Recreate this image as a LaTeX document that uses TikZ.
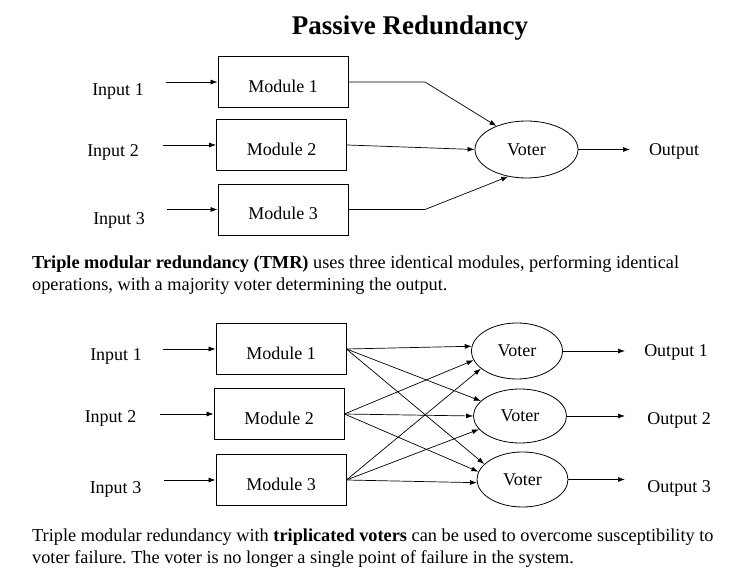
\documentclass[tikz,border=0pt]{standalone}
\usepackage{fontspec}
\setmainfont{Liberation Serif}
\usetikzlibrary{arrows.meta, shapes.geometric}
\frenchspacing

\begin{document}
\begin{tikzpicture}[x=1pt, y=-1pt,
  font=\fontsize{18}{22}\selectfont,
  modbox/.style={draw, line width=0.8pt, minimum width=130pt, inner ysep=0pt,
    text height=36pt, text depth=15pt},
  voter/.style={draw, ellipse, line width=0.8pt, inner sep=0pt},
  lbl/.style={anchor=base},
  flow/.style={-{Latex[length=7pt, width=5pt]}, line width=0.7pt},
  para/.style={anchor=base west, align=left, inner sep=0pt,
    font=\fontsize{18.3}{22}\selectfont}]

\useasboundingbox (0,0) rectangle (748,569);

% ======================
% Title
% ======================
\node[lbl, font=\fontsize{27}{32}\selectfont\bfseries] (title) at (410,35) {Passive Redundancy};

% ======================
% TMR with one voter
% ======================
\node[modbox] (m1) at (283,82) {Module 1};
\node[modbox] (m2) at (281.5,145) {Module 2};
\node[modbox] (m3) at (283,209.5) {Module 3};
\node[voter, minimum width=103pt, minimum height=57pt] (v) at (526.5,149.5) {Voter};

\node[lbl] (in1) at (118,96) {Input 1};
\node[lbl] (in2) at (113,157) {Input 2};
\node[lbl] (in3) at (119,225) {Input 3};
\node[lbl] (out) at (674,156) {Output};

\coordinate (t1) at (166,82);
\coordinate (t2) at (163,145);
\coordinate (t3) at (167,209.5);
\coordinate (k1) at (425,82);
\coordinate (k3) at (425,209.5);
\coordinate (o) at (630,149.5);

\draw[flow] (t1) -- (m1.west);
\draw[flow] (t2) -- (m2.west);
\draw[flow] (t3) -- (m3.west);
\draw[flow] (m1.east) -- (k1) -- (v.142);
\draw[flow] (m2.east) -- (v.west);
\draw[flow] (m3.east) -- (k3) -- (v.236);
\draw[flow] (v.east) -- (o);

\node[para] (txt1) at (32,291)
{\textbf{Triple modular redundancy (TMR)} uses three identical modules, performing identical\\
operations, with a majority voter determining the output.};

% ======================
% TMR with triplicated voters
% ======================
\node[modbox] (b1) at (281,349) {Module 1};
\node[modbox] (b2) at (279,414) {Module 2};
\node[modbox] (b3) at (281,480) {Module 3};
\node[voter, minimum width=91pt, minimum height=56pt] (w1) at (517,351) {Voter};
\node[voter, minimum width=93pt, minimum height=54pt] (w2) at (520,416) {Voter};
\node[voter, minimum width=91pt, minimum height=55pt] (w3) at (522.5,479.5) {Voter};

\node[lbl] (jn1) at (116,361) {Input 1};
\node[lbl] (jn2) at (110.5,423) {Input 2};
\node[lbl] (jn3) at (115.5,494) {Input 3};
\node[lbl] (out1) at (676,357) {Output 1};
\node[lbl] (out2) at (679,425) {Output 2};
\node[lbl] (out3) at (679,493) {Output 3};

\coordinate (s1) at (163,349);
\coordinate (s2) at (160,414);
\coordinate (s3) at (164,480);
\coordinate (p1) at (625,351);
\coordinate (p2) at (625,416);
\coordinate (p3) at (625,479.5);

\foreach \i in {1,2,3} {
  \draw[flow] (s\i) -- (b\i.west);
  \draw[flow] (w\i.east) -- (p\i);
}

\foreach \b/\w/\a in {b1/w1/174, b1/w2/159, b1/w3/158,
                      b2/w1/192, b2/w2/180, b2/w3/170,
                      b3/w1/206, b3/w2/198, b3/w3/184}
  \draw[flow] (\b.east) -- (\w.\a);

\node[para] (txt2) at (32,564)
{Triple modular redundancy with \textbf{triplicated voters} can be used to overcome susceptibility to\\
voter failure. The voter is no longer a single point of failure in the system.};

\end{tikzpicture}
\end{document}
